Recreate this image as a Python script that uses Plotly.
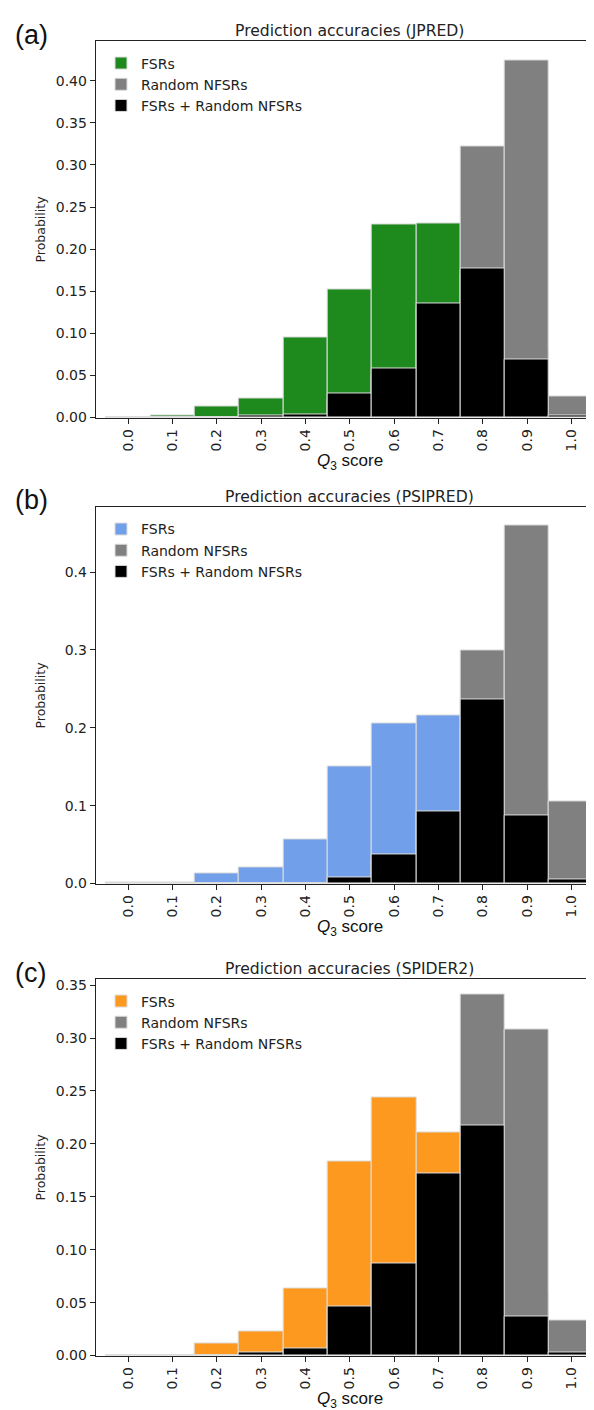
import plotly.graph_objects as go

# ---------------- data ----------------
bins = [0.0, 0.1, 0.2, 0.3, 0.4, 0.5, 0.6, 0.7, 0.8, 0.9, 1.0]
tick_labels = ["0.0", "0.1", "0.2", "0.3", "0.4", "0.5", "0.6", "0.7", "0.8", "0.9", "1.0"]

# (a) JPRED
fsr_jpred = [0.0005, 0.0026, 0.0132, 0.023, 0.095, 0.152, 0.229, 0.2305, 0.17, 0.08, 0.004]
nfsr_jpred = [0.0, 0.0, 0.0, 0.001, 0.003, 0.02, 0.05, 0.13, 0.3215, 0.424, 0.025]
both_jpred = [0.0, 0.0, 0.0, 0.0026, 0.0038, 0.0289, 0.0584, 0.135, 0.177, 0.0686, 0.002]

# (b) PSIPRED
fsr_psipred = [0.0008, 0.0015, 0.0128, 0.0205, 0.0567, 0.151, 0.206, 0.216, 0.2, 0.12, 0.015]
nfsr_psipred = [0.0, 0.0, 0.0, 0.0, 0.0, 0.006, 0.03, 0.09, 0.299, 0.46, 0.1048]
both_psipred = [0.0, 0.0, 0.0, 0.0, 0.0, 0.0075, 0.0376, 0.0928, 0.2365, 0.0877, 0.0048]

# (c) SPIDER2
fsr_spider = [0.0, 0.0, 0.011, 0.0232, 0.063, 0.183, 0.244, 0.211, 0.2, 0.06, 0.005]
nfsr_spider = [0.0, 0.0, 0.0, 0.0, 0.002, 0.02, 0.06, 0.17, 0.341, 0.308, 0.0331]
both_spider = [0.0, 0.0, 0.0, 0.0028, 0.0069, 0.0463, 0.087, 0.172, 0.2173, 0.0369, 0.0025]

series_names = ["FSRs", "Random NFSRs", "FSRs + Random NFSRs"]
panel_titles = ["Prediction accuracies (JPRED)", "Prediction accuracies (PSIPRED)",
                "Prediction accuracies (SPIDER2)"]
panel_letters = ["(a)", "(b)", "(c)"]

# ---------------- styling / layout ----------------
W, H = 594, 1410
fsr_colors = ["#1e8a1e", "#729fea", "#fe991f"]
gray = "#808080"
black = "#000000"
edge = "#dcdcdc"

# pixel geometry of each panel: (top, bottom)
panel_px = [(31.7, 410.5), (501.0, 879.8), (976.4, 1355.2)]
y_ranges = [[0, 0.4467], [0, 0.4829], [0, 0.3553]]
y_ticks = [
    ([0.0, 0.05, 0.10, 0.15, 0.20, 0.25, 0.30, 0.35, 0.40], ".2f"),
    ([0.0, 0.1, 0.2, 0.3, 0.4], ".1f"),
    ([0.0, 0.05, 0.10, 0.15, 0.20, 0.25, 0.30, 0.35], ".2f"),
]
left_px = 87.7
x0_px = 120.3
px_per_unit = 443.0
x_range = [-(x0_px - left_px) / px_per_unit, (W - x0_px) / px_per_unit]

data = [
    (fsr_jpred, nfsr_jpred, both_jpred),
    (fsr_psipred, nfsr_psipred, both_psipred),
    (fsr_spider, nfsr_spider, both_spider),
]

font_main = "DejaVu Sans, sans-serif"
font_alt = "Liberation Sans, Arial, sans-serif"


def py(px):
    return 1 - px / H


fig = go.Figure()
annotations = []
layout_axes = {}

for i, (fsr, nfsr, both) in enumerate(data):
    suffix = "" if i == 0 else str(i + 1)
    xa, ya = "x" + suffix, "y" + suffix
    leg = "legend" if i == 0 else "legend" + str(i + 1)
    colors = [fsr_colors[i], gray, black]
    for name, vals, col in zip(series_names, (fsr, nfsr, both), colors):
        fig.add_trace(go.Bar(
            x=bins, y=vals, width=0.1, name=name,
            marker=dict(color=col, line=dict(color=edge, width=1)),
            xaxis=xa, yaxis=ya, legend=leg, hoverinfo="x+y+name",
        ))
    top, bot = panel_px[i]
    layout_axes["xaxis" + suffix] = dict(
        domain=[left_px / W, 1.0], anchor=ya, range=x_range,
        tickmode="array", tickvals=bins, ticktext=tick_labels, tickangle=-90,
        ticks="outside", ticklen=5, tickwidth=1, tickcolor="#222",
        showline=True, linecolor="#222", linewidth=1, mirror=True,
        showgrid=False, zeroline=False,
        tickfont=dict(family=font_main, size=14, color="#222"),
    )
    tv, fmt = y_ticks[i]
    layout_axes["yaxis" + suffix] = dict(
        domain=[py(bot), py(top)], anchor=xa, range=y_ranges[i],
        tickmode="array", tickvals=tv, tickformat=fmt,
        ticks="outside", ticklen=5, tickwidth=1, tickcolor="#222",
        showline=True, linecolor="#222", linewidth=1, mirror=False,
        showgrid=False, zeroline=False,
        tickfont=dict(family=font_main, size=14, color="#222"),
    )
    layout_axes[leg] = dict(
        x=93 / W, y=py(top + 6), xanchor="left", yanchor="top",
        bgcolor="rgba(255,255,255,0)", borderwidth=0,
        font=dict(family=font_main, size=14, color="#222"),
        tracegroupgap=0, itemclick=False,
    )
    xc = (left_px + 596) / 2 / W
    annotations.append(dict(
        text=panel_titles[i], x=xc, y=py(top - 11), xref="paper", yref="paper",
        xanchor="center", yanchor="middle", showarrow=False,
        font=dict(family=font_main, size=15.6, color="#222"),
    ))
    annotations.append(dict(
        text=panel_letters[i], x=5 / W, y=py(top - 7), xref="paper", yref="paper",
        xanchor="left", yanchor="middle", showarrow=False,
        font=dict(family=font_alt, size=27, color="#111"),
    ))
    annotations.append(dict(
        text="<i>Q</i><sub>3</sub> score", x=xc, y=py(bot + 45), xref="paper",
        yref="paper", xanchor="center", yanchor="middle", showarrow=False,
        font=dict(family=font_alt, size=17, color="#111"),
    ))
    annotations.append(dict(
        text="Probability", x=33 / W, y=py((top + bot) / 2), xref="paper",
        yref="paper", xanchor="center", yanchor="middle", textangle=-90,
        showarrow=False, font=dict(family=font_main, size=12.5, color="#222"),
    ))

fig.update_layout(
    width=W, height=H, margin=dict(l=0, r=0, t=0, b=0),
    paper_bgcolor="white", plot_bgcolor="white",
    barmode="overlay", bargap=0,
    annotations=annotations,
    **layout_axes,
)

fig.write_html("out.html")
